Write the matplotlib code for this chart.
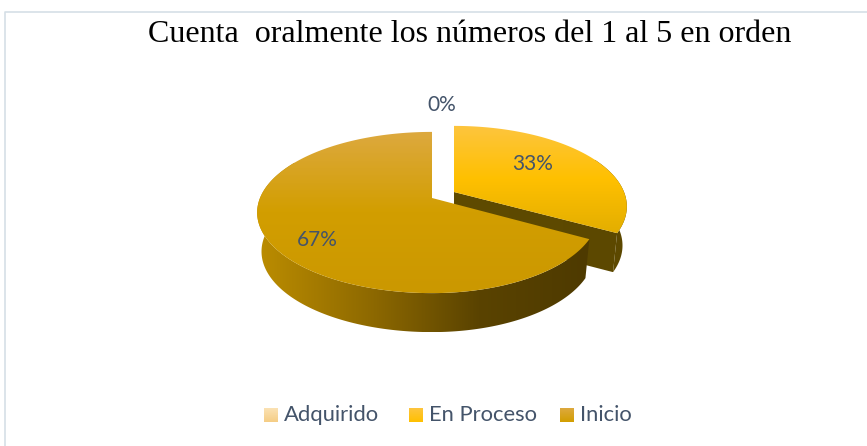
import numpy as np
import matplotlib
matplotlib.use('Agg')
import matplotlib.pyplot as plt
from matplotlib.colors import LinearSegmentedColormap
from matplotlib.patches import Polygon

title = 'Cuenta  oralmente los números del 1 al 5 en orden'
labels = ['Adquirido', 'En Proceso', 'Inicio']
values = [0, 33, 67]
pct_text = ['0%', '33%', '67%']

top_colors = [['#FBE2B4', '#F5CD85'],
              ['#FDC53F', '#FFC000', '#E3AE00'],
              ['#DDA93F', '#D29E00', '#CB9800']]
side_colors = [['#C9A060', '#6B5020'],
               ['#5F4B00', '#5C4800'],
               ['#BC8D00', '#8F6A00', '#5A4300', '#4E3A00']]
text_color = '#44546A'

# geometria de la torta en pixeles
cx, cy = 432, 198
bx_right = [170, 170, 164]
bx_left = 172
ay, persp = 78, 0.18
depth = 39
narrow = 0.975
shifts = [(0, 0), (22, -6), (0, 0)]

fig = plt.figure(figsize=(8.67, 4.46), dpi=100)
ax = fig.add_axes([0, 0, 1, 1])
ax.set_xlim(0, 867)
ax.set_ylim(446, 0)
ax.axis('off')

def rim(theta, i, bottom=False):
    shift = shifts[i]
    u, v = np.sin(theta), np.cos(theta)
    d = 1 + persp * v
    x = np.where(u > 0, bx_right[i], bx_left) * u / d
    y = -ay * v / d
    if bottom:
        x = x * narrow
        y = y + depth
    return np.column_stack([cx + shift[0] + x, cy + shift[1] + y])

def gradient(poly, colors, horizontal=False):
    cmap = LinearSegmentedColormap.from_list('g', colors)
    xy = np.array(poly)
    x0, x1 = xy[:, 0].min(), xy[:, 0].max()
    y0, y1 = xy[:, 1].min(), xy[:, 1].max()
    g = np.linspace(0, 1, 256)
    g = g[None, :] if horizontal else g[:, None]
    im = ax.imshow(g, cmap=cmap, extent=[x0, x1, y1, y0], aspect='auto', zorder=zo[0])
    clip = Polygon(xy, closed=True, transform=ax.transData)
    im.set_clip_path(clip)
    zo[0] += 1

zo = [2]
# bordes del recuadro
ax.plot([5, 5, 867], [446, 11.5, 11.5], color='#D5DFE6', lw=1.2, zorder=1)

# angulos de cada porcion, empezando arriba y en sentido horario
ends = np.cumsum(values) / np.sum(values) * 2 * np.pi
starts = np.concatenate([[0], ends[:-1]])

# En Proceso primero, Inicio queda encima
for i in [1, 2]:
    t = np.linspace(starts[i], ends[i], 300)
    s = shifts[i]
    apex = np.array([[cx + s[0], cy + s[1]]])
    vis = t[np.cos(t) < 0.45] if i == 1 else t[t < np.deg2rad(300)]
    if i == 1:
        # cara radial oscura
        corner = rim(np.array([ends[i]]), i)
        corner_b = rim(np.array([ends[i]]), i, True)
        face = [apex[0], corner[0], corner_b[0], apex[0] + [0, depth]]
        gradient(face, ['#5F4B00', '#5C4800'], True)
    side = np.vstack([rim(vis, i), rim(vis, i, True)[::-1]])
    gradient(side, side_colors[i], True)
    top = np.vstack([apex, rim(t, i)])
    gradient(top, top_colors[i])

zz = zo[0] + 10
ax.text(470, 35, title, family='Liberation Serif', fontsize=23.05, color='black',
        ha='center', va='center', zorder=zz)
ax.text(442, 105, pct_text[0], family='Lato', fontsize=15, color=text_color, ha='center', va='center', zorder=zz)
ax.text(533, 164.5, pct_text[1], family='Lato', fontsize=15, color=text_color, ha='center', va='center', zorder=zz)
ax.text(317, 239.5, pct_text[2], family='Lato', fontsize=15, color=text_color, ha='center', va='center', zorder=zz)

# leyenda
sq_x = [264, 409, 560]
for i in range(3):
    sq = [(sq_x[i], 408), (sq_x[i] + 14, 408), (sq_x[i] + 14, 422), (sq_x[i], 422)]
    gradient(sq, top_colors[i][:2])
    ax.text(sq_x[i] + 20, 415, labels[i], family='Lato', fontsize=15.8, color=text_color,
            ha='left', va='center', zorder=zz)

ax.set_xlim(0, 867)
ax.set_ylim(446, 0)
fig.savefig('out.png', dpi=100)
